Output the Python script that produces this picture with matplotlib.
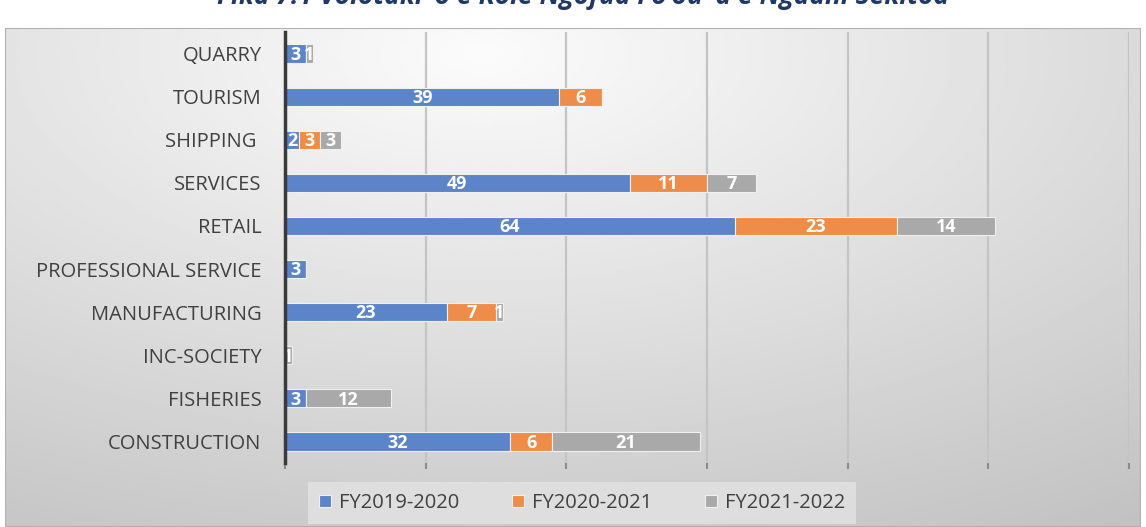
import numpy as np
import matplotlib.pyplot as plt
from matplotlib.patches import Rectangle

# data (bottom to top)
categories = ["CONSTRUCTION", "FISHERIES", "INC-SOCIETY", "MANUFACTURING",
              "PROFESSIONAL SERVICE", "RETAIL", "SERVICES", "SHIPPING ",
              "TOURISM", "QUARRY"]
fy1920 = [32, 3, 0, 23, 3, 64, 49, 2, 39, 3]
fy2021 = [6, 0, 0, 7, 0, 23, 11, 3, 6, 0]
fy2122 = [21, 12, 1, 1, 0, 14, 7, 3, 0, 1]
series_names = ["FY2019-2020", "FY2020-2021", "FY2021-2022"]
colors = ["#5b84c9", "#ee8d49", "#a9a9a9"]
title = "Fika 7.1 Volotaki 'o e Kole Ngofua Fo'ou 'a e Ngaahi Sekitoa"

plt.rcParams['font.family'] = ['Open Sans', 'DejaVu Sans']

W, H = 1146, 527
fig = plt.figure(figsize=(W / 100, H / 100), dpi=100)
fig.patch.set_facecolor("white")

# gradient background of chart area
bg = fig.add_axes([5 / W, 0, 1136 / W, (H - 28) / H])
yy, xx = np.mgrid[0:1:200j, 0:1:400j]
d = np.sqrt(((xx - 0.42) * 1.0) ** 2 + ((yy - 0.05) * 0.9) ** 2)
grad = 0.985 - 0.22 * d
bg.imshow(grad, cmap="gray", vmin=0, vmax=1, aspect="auto",
          extent=[0, 1, 0, 1], origin="upper")
bg.add_patch(Rectangle((0, 0), 1, 1, fill=False, edgecolor="#b0b0b0",
                       lw=1.5, transform=bg.transAxes))
bg.set_axis_off()

# title, partly cut by the top of the figure as in the source
fig.text(583 / W, 1 - 4 / H, title, ha="center", va="baseline",
         fontsize=19, fontweight="bold", fontstyle="italic", color="#1f3864")

ax = fig.add_axes([285 / W, 64 / H, (1129 - 285) / W, 431 / H])
ax.patch.set_alpha(0)

y = np.arange(len(categories))
left = np.zeros(len(categories))
bh = 0.42
for vals, name, c in zip([fy1920, fy2021, fy2122], series_names, colors):
    vals = np.array(vals, dtype=float)
    bars = ax.barh(y, vals, left=left, height=bh, color=c, label=name,
                   edgecolor="#f0f0f0", linewidth=0.8, zorder=3)
    for b, v in zip(bars, vals):
        if v > 0:
            ax.text(b.get_x() + b.get_width() / 2, b.get_y() + b.get_height() / 2 - 0.03,
                    f"{int(v)}", ha="center", va="center", color="white",
                    fontsize=13, fontweight="bold", zorder=4)
    left += vals

ax.set_xlim(0, 120)
ax.set_ylim(-0.5, len(categories) - 0.5)
ax.set_xticks(np.arange(0, 121, 20))
ax.set_xticklabels([])
ax.set_yticks(y)
ax.set_yticklabels(categories, fontsize=14.5, color="#404040", fontweight="medium")
ax.tick_params(axis="y", length=0, pad=17)
ax.tick_params(axis="x", length=4, color="#8c8c8c", width=1.5)
ax.grid(axis="x", color="#c4c4c4", linewidth=1.6, zorder=0)
for s in ["top", "right", "bottom"]:
    ax.spines[s].set_visible(False)
ax.spines["left"].set_color("#3a3a3a")
ax.spines["left"].set_linewidth(2.5)
ax.spines["left"].set_zorder(5)

leg = fig.legend(loc="center", bbox_to_anchor=(582 / W, 1 - 503 / H), ncol=3,
                 frameon=True, fontsize=14.5, handlelength=0.6, handleheight=0.6,
                 handletextpad=0.4, columnspacing=2.6, borderpad=0.55,
                 borderaxespad=0, fancybox=False)
leg.get_frame().set_facecolor("#e3e3e3")
leg.get_frame().set_edgecolor("none")
for t in leg.get_texts():
    t.set_color("#404040")

fig.savefig("out.png", dpi=100)
